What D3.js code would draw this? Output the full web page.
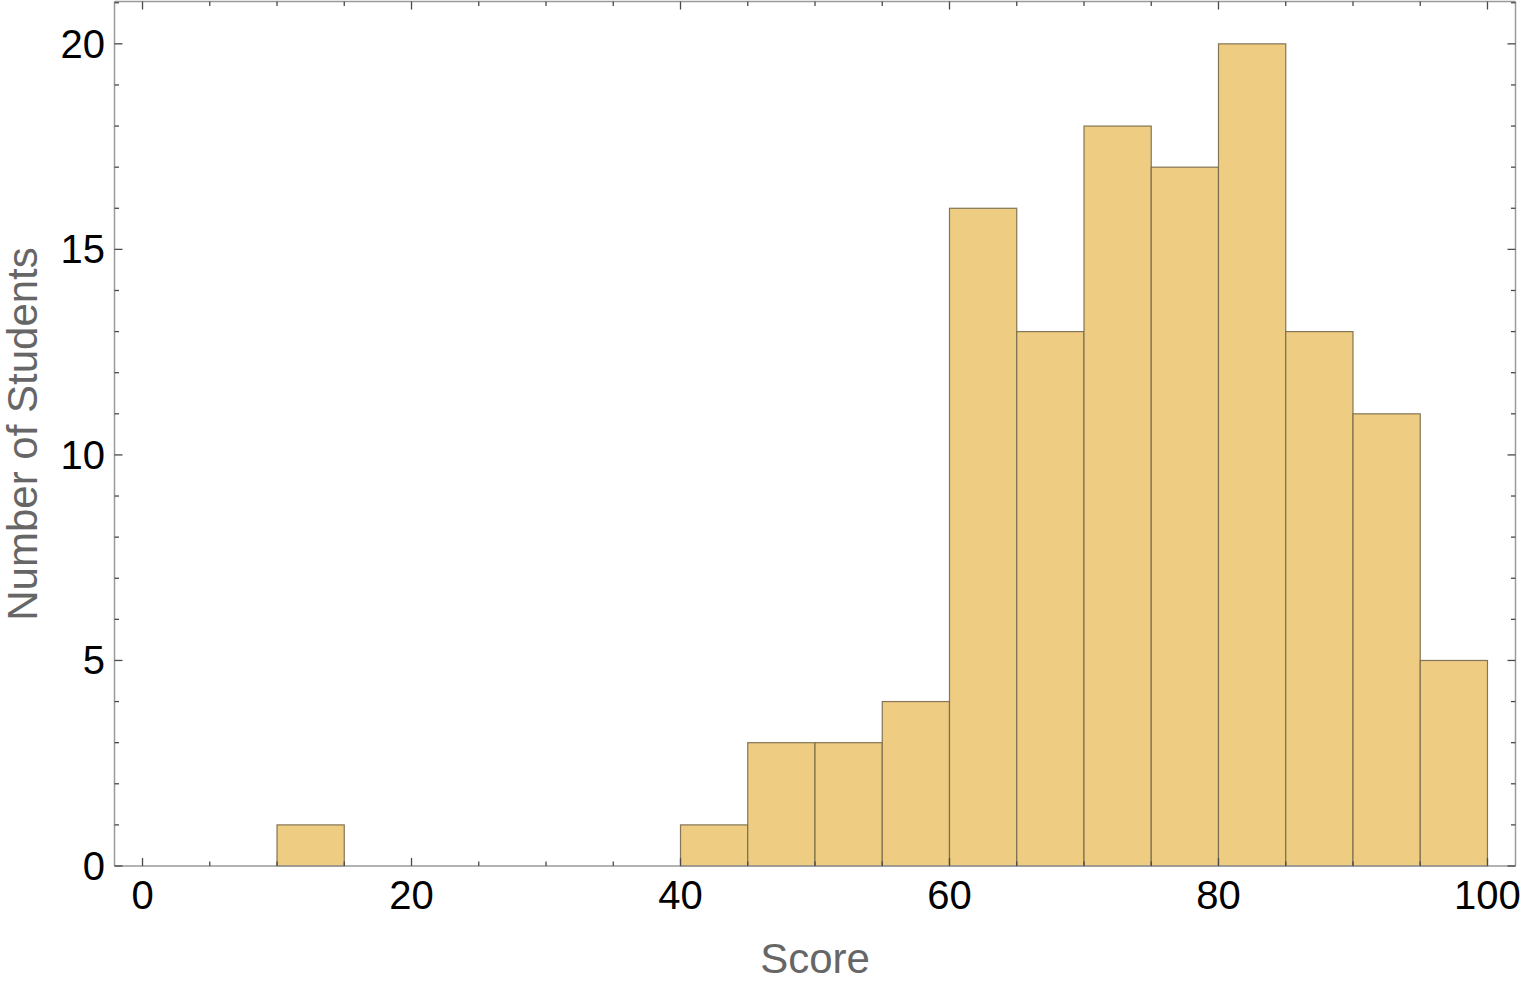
<!DOCTYPE html>
<html>
<head>
<meta charset="utf-8">
<script src="https://cdn.jsdelivr.net/npm/d3@7"></script>
<style>
  html, body { margin: 0; padding: 0; background: #fff; }
  svg { display: block; }
</style>
</head>
<body>
<svg id="chart" width="1522" height="987"></svg>
<script>
// Histogram data (bin edges, width 5)
const binStarts = [10, 40, 45, 50, 55, 60, 65, 70, 75, 80, 85, 90, 95];
const binWidth = 5;
const counts   = [1, 1, 3, 3, 4, 16, 13, 18, 17, 20, 13, 11, 5];

const xMajorTicks = [0, 20, 40, 60, 80, 100];
const yMajorTicks = [0, 5, 10, 15, 20];
const xLabel = "Score";
const yLabel = "Number of Students";

(function () {
const svg = d3.select("#chart");
const pLeft = 114.5, pRight = 1515.5, pTop = 1.5, pBottom = 866;

const x = d3.scaleLinear().domain([-2.083, 102.083]).range([pLeft, pRight]);
const y = d3.scaleLinear().domain([0, 21.03]).range([pBottom, pTop]);

const frameColor = "#9a9a9a";
const tickColor = "#4a4a4a";
const font = "'Liberation Sans', Arial, sans-serif";

// bars
svg.append("g").selectAll("rect")
  .data(binStarts.map((s, i) => ({ s, c: counts[i] })))
  .join("rect")
  .attr("x", d => x(d.s))
  .attr("y", d => y(d.c))
  .attr("width", d => x(d.s + binWidth) - x(d.s))
  .attr("height", d => y(0) - y(d.c))
  .attr("fill", "#eecd83")
  .attr("stroke", "#77694a")
  .attr("stroke-opacity", 0.9)
  .attr("stroke-width", 1.2);

// frame
const fr = svg.append("g").attr("stroke", frameColor).attr("stroke-width", 1.5);
fr.append("line").attr("x1", pLeft).attr("x2", pRight).attr("y1", pBottom).attr("y2", pBottom);
fr.append("line").attr("x1", pLeft).attr("x2", pRight).attr("y1", pTop).attr("y2", pTop);
fr.append("line").attr("x1", pLeft).attr("x2", pLeft).attr("y1", pTop).attr("y2", pBottom);
fr.append("line").attr("x1", pRight).attr("x2", pRight).attr("y1", pTop).attr("y2", pBottom);

// x ticks (bottom and top), minor every 5
const xMinor = d3.range(0, 101, 5).filter(v => !xMajorTicks.includes(v));
const tg = svg.append("g").attr("stroke", tickColor).attr("stroke-width", 1.3);
xMajorTicks.forEach(v => {
  tg.append("line").attr("x1", x(v)).attr("x2", x(v)).attr("y1", pBottom).attr("y2", pBottom - 8);
  tg.append("line").attr("x1", x(v)).attr("x2", x(v)).attr("y1", pTop).attr("y2", pTop + 8);
});
xMinor.forEach(v => {
  tg.append("line").attr("x1", x(v)).attr("x2", x(v)).attr("y1", pBottom).attr("y2", pBottom - 4.5);
  tg.append("line").attr("x1", x(v)).attr("x2", x(v)).attr("y1", pTop).attr("y2", pTop + 4.5);
});
// y ticks (left and right), minor every 1
const yMinor = d3.range(0, 22, 1).filter(v => !yMajorTicks.includes(v));
yMajorTicks.forEach(v => {
  tg.append("line").attr("x1", pLeft).attr("x2", pLeft + 8).attr("y1", y(v)).attr("y2", y(v));
  tg.append("line").attr("x1", pRight).attr("x2", pRight - 8).attr("y1", y(v)).attr("y2", y(v));
});
yMinor.forEach(v => {
  tg.append("line").attr("x1", pLeft).attr("x2", pLeft + 4.5).attr("y1", y(v)).attr("y2", y(v));
  tg.append("line").attr("x1", pRight).attr("x2", pRight - 4.5).attr("y1", y(v)).attr("y2", y(v));
});

// tick labels
svg.append("g").selectAll("text").data(xMajorTicks).join("text")
  .attr("x", d => x(d)).attr("y", 909)
  .attr("text-anchor", "middle")
  .attr("font-family", font).attr("font-size", 40).attr("fill", "#000")
  .text(d => d);
svg.append("g").selectAll("text").data(yMajorTicks).join("text")
  .attr("x", 105).attr("y", d => y(d) + 14)
  .attr("text-anchor", "end")
  .attr("font-family", font).attr("font-size", 40).attr("fill", "#000")
  .text(d => d);

// axis labels
svg.append("text")
  .attr("x", x(50)).attr("y", 973)
  .attr("text-anchor", "middle")
  .attr("font-family", font).attr("font-size", 42).attr("fill", "#666")
  .text(xLabel);
svg.append("text")
  .attr("transform", `translate(37, ${434}) rotate(-90)`)
  .attr("text-anchor", "middle")
  .attr("font-family", font).attr("font-size", 42).attr("fill", "#666")
  .text(yLabel);
})();
</script>
</body>
</html>
